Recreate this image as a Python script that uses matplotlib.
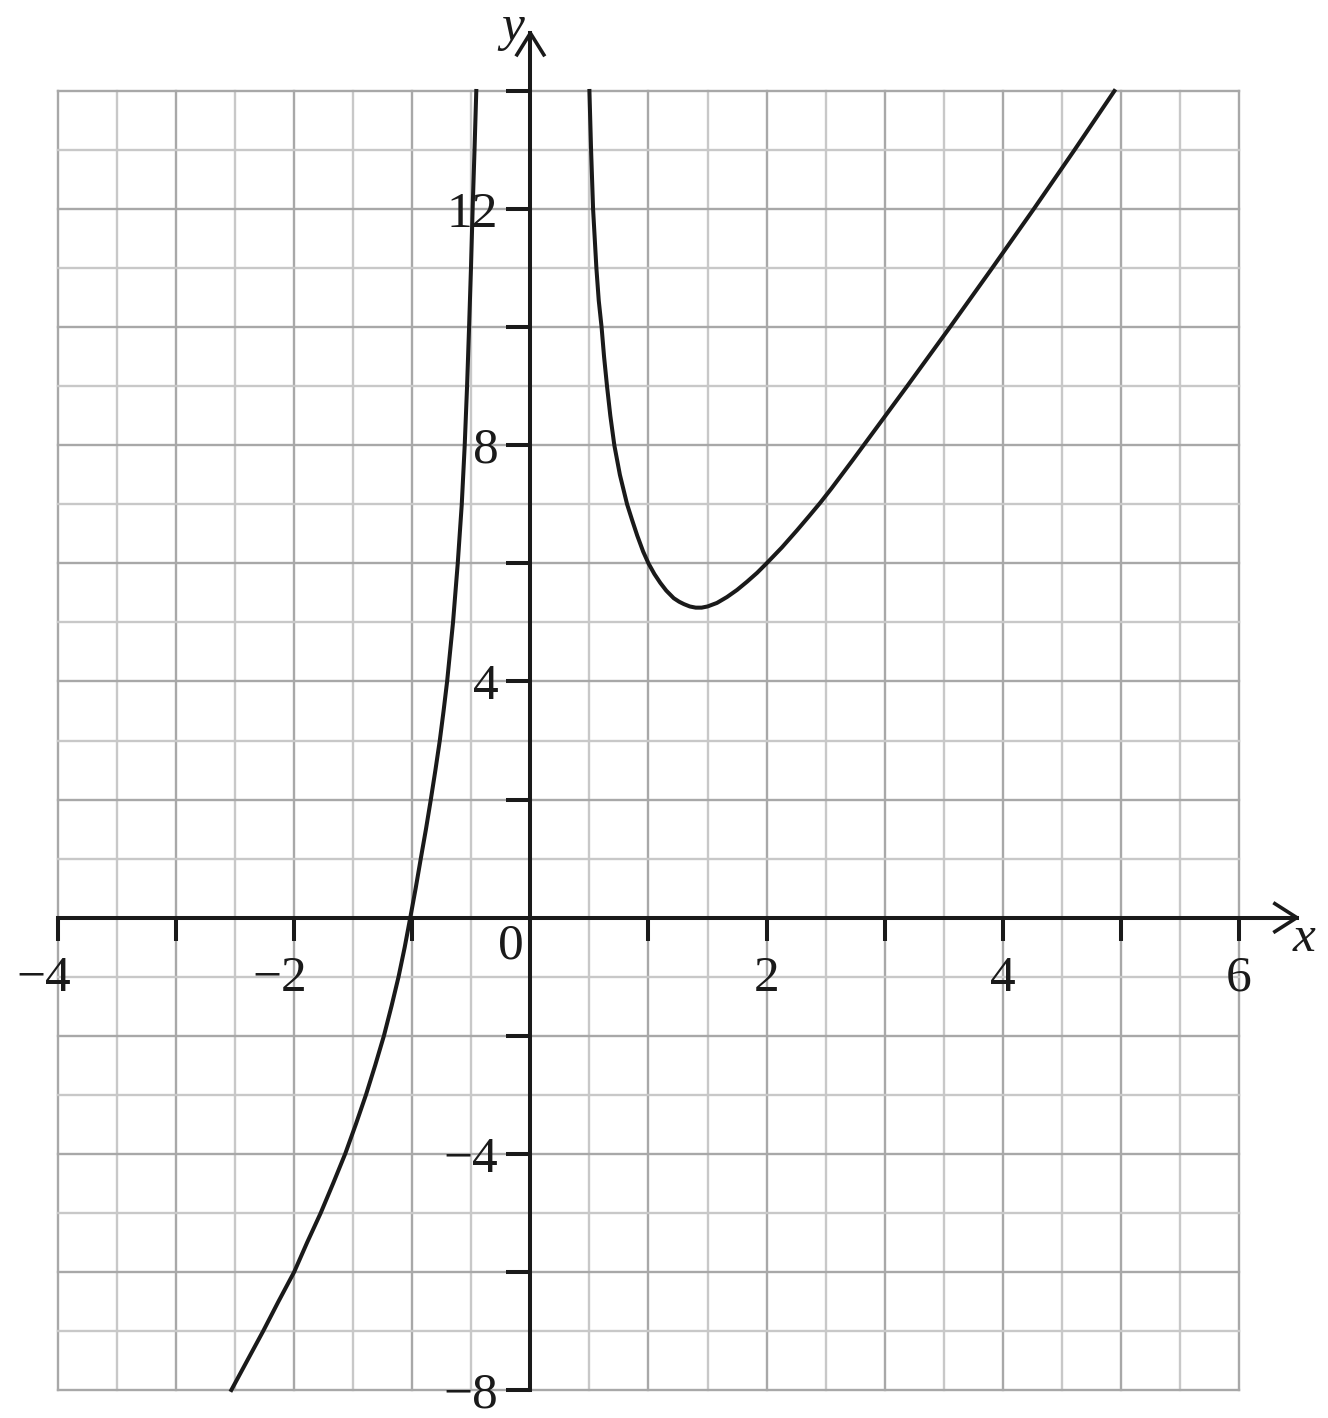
import matplotlib.pyplot as plt

# curve values
left_x = [-2.532, -2.397, -2.262, -2.133, -2.000, -1.890, -1.775, -1.670, -1.568,
          -1.478, -1.392, -1.314, -1.240, -1.176, -1.116, -1.064, -1.017, -0.971,
          -0.928, -0.884, -0.843, -0.804, -0.767, -0.735, -0.705, -0.655, -0.615,
          -0.581, -0.556, -0.536, -0.519, -0.503, -0.489, -0.473, -0.458]
left_y = [-8, -7.5, -7, -6.5, -6, -5.5, -5, -4.5, -4, -3.5, -3, -2.5, -2, -1.5, -1,
          -0.5, 0, 0.5, 1, 1.5, 2, 2.5, 3, 3.5, 4, 5, 6, 7, 8, 9, 10, 11, 12, 13, 14]

right_x = [0.500, 0.514, 0.531, 0.559, 0.579, 0.603, 0.624, 0.649, 0.677, 0.711,
           0.758, 0.819, 0.862, 0.905, 0.955, 1.0, 1.05, 1.1, 1.15, 1.214, 1.26,
           1.30, 1.35, 1.40, 1.45, 1.5, 1.58, 1.665, 1.75, 1.835, 1.92, 2.0, 2.13,
           2.258, 2.36, 2.456, 2.55, 2.64, 2.73, 2.822, 3.006, 3.190, 3.553, 3.910,
           4.262, 4.607, 4.945]
right_y = [14, 13, 12, 11, 10.45, 10, 9.5, 9, 8.5, 8, 7.5, 7, 6.73, 6.47, 6.20, 6.0,
           5.82, 5.67, 5.54, 5.41, 5.35, 5.31, 5.27, 5.25, 5.25, 5.27, 5.33, 5.43,
           5.55, 5.69, 5.84, 6.0, 6.27, 6.56, 6.80, 7.03, 7.27, 7.51, 7.75, 8.0,
           8.5, 9, 10, 11, 12, 13, 14]

x_labels = [-4, -2, 2, 4, 6]
y_labels = [-8, -4, 4, 8, 12]
x_ticks = [-4, -3, -2, -1, 1, 2, 3, 4, 5, 6]
y_ticks = [-8, -6, -4, -2, 2, 4, 6, 8, 10, 12, 14]

xmin, xmax = -4, 6
ymin, ymax = -8, 14

font = 'Liberation Serif'
fs = 37
ink = '#1a1a1a'

fig = plt.figure(figsize=(13.28, 14.18), dpi=100)
ax = fig.add_axes([0, 0, 1, 1])
ax.set_xlim(-4.491, 6.754)
ax.set_ylim(-8.474, 15.541)
ax.axis('off')

# grid
for i in range(21):
    gx = xmin + 0.5 * i
    col = '#a8a8a8' if i % 2 == 0 else '#c8c8c8'
    ax.plot([gx, gx], [ymin, ymax], color=col, lw=1.7, zorder=1)
for gy in range(ymin, ymax + 1):
    col = '#a8a8a8' if gy % 2 == 0 else '#c8c8c8'
    ax.plot([xmin, xmax], [gy, gy], color=col, lw=1.7, zorder=1)

# axes with open arrowheads
ax.plot([xmin, 6.49], [0, 0], color=ink, lw=2.9, zorder=3)
ax.plot([6.49 - 0.186, 6.49, 6.49 - 0.186], [0.237, 0, -0.237],
        color=ink, lw=2.6, zorder=3)
ax.plot([0, 0], [ymin, 14.98], color=ink, lw=2.9, zorder=3)
ax.plot([-0.114, 0, 0.114], [14.98 - 0.367, 14.98, 14.98 - 0.367],
        color=ink, lw=2.6, zorder=3)

for t in x_ticks:
    ax.plot([t, t], [0, -0.39], color=ink, lw=2.9, zorder=3, solid_capstyle='butt')
for t in y_ticks:
    ax.plot([0, -0.203], [t, t], color=ink, lw=2.9, zorder=3, solid_capstyle='butt')

# tick labels
for t in x_labels:
    if t < 0:
        ax.text(t + 0.11, -1.236, '\u2212' + str(-t), ha='right', va='baseline',
                family=font, fontsize=fs, color=ink, zorder=4)
    else:
        ax.text(t, -1.236, str(t), ha='center', va='baseline',
                family=font, fontsize=fs, color=ink, zorder=4)
for t in y_labels:
    s = '\u2212' + str(-t) if t < 0 else str(t)
    ax.text(-0.271, t - 0.3, s, ha='right', va='baseline',
            family=font, fontsize=fs, color=ink, zorder=4)

ax.text(-0.161, -0.694, '0', ha='center', va='baseline',
        family=font, fontsize=fs, color=ink, zorder=4)
ax.text(6.55, -0.56, 'x', ha='center', va='baseline', style='italic',
        family=font, fontsize=fs, color=ink, zorder=4)
ax.text(-0.152, 14.86, 'y', ha='center', va='baseline', style='italic',
        family=font, fontsize=fs, color=ink, zorder=4)

# the curve
ax.plot(left_x, left_y, color=ink, lw=2.9, zorder=5, solid_joinstyle='round')
ax.plot(right_x, right_y, color=ink, lw=2.9, zorder=5, solid_joinstyle='round')

fig.savefig('out.png', dpi=100)
